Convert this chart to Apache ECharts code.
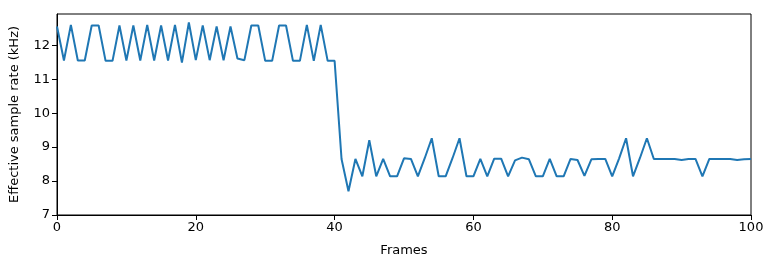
<!DOCTYPE html>
<html>
<head>
<meta charset="utf-8">
<script src="https://cdn.jsdelivr.net/npm/echarts@6/dist/echarts.min.js"></script>
<style>html,body{margin:0;padding:0;background:#fff}#c{width:774px;height:268px}</style>
</head>
<body>
<div id="c"></div>
<script>
const frames = Array.from({length: 101}, (_, i) => i);
const sampleRate = [
  12.55, 11.55, 12.6, 11.55, 11.55, 12.58, 12.58, 11.54, 11.54, 12.58,
  11.55, 12.58, 11.55, 12.6, 11.55, 12.58, 11.55, 12.6, 11.49, 12.67,
  11.56, 12.58, 11.56, 12.55, 11.56, 12.55, 11.61, 11.56, 12.58, 12.58,
  11.54, 11.54, 12.58, 12.58, 11.54, 11.54, 12.6, 11.54, 12.6, 11.54,
  11.54, 8.65, 7.7, 8.65, 8.14, 9.2, 8.14, 8.65, 8.14, 8.14,
  8.67, 8.65, 8.14, 8.68, 9.26, 8.14, 8.14, 8.68, 9.26, 8.14,
  8.14, 8.65, 8.14, 8.66, 8.66, 8.14, 8.61, 8.69, 8.64, 8.14,
  8.14, 8.65, 8.14, 8.14, 8.65, 8.62, 8.15, 8.64, 8.65, 8.65,
  8.14, 8.67, 9.26, 8.14, 8.68, 9.26, 8.65, 8.65, 8.65, 8.65,
  8.62, 8.65, 8.65, 8.14, 8.65, 8.65, 8.65, 8.65, 8.62, 8.64, 8.65
];
const xTicks = [0, 20, 40, 60, 80, 100];
const yTicks = [7, 8, 9, 10, 11, 12];

const font = 'DejaVu Sans';
const chart = echarts.init(document.getElementById('c'), null, {renderer: 'canvas'});
chart.setOption({
  animation: false,
  grid: {left: 57, right: 23, top: 14, bottom: 53, show: true, borderColor: '#000', borderWidth: 1, backgroundColor: 'transparent'},
  xAxis: {
    type: 'value', min: 0, max: 100, interval: 20,
    name: 'Frames', nameLocation: 'middle', nameGap: 29,
    nameTextStyle: {fontFamily: font, fontSize: 13, color: '#000'},
    axisLine: {show: true, lineStyle: {color: '#000', width: 1}},
    axisTick: {show: true, length: 5, inside: false, lineStyle: {color: '#000'}, customValues: xTicks},
    axisLabel: {fontFamily: font, fontSize: 13, color: '#000', margin: 6, customValues: xTicks},
    splitLine: {show: false}
  },
  yAxis: {
    type: 'value', min: 7, max: 12.92, interval: 1,
    name: 'Effective sample rate (kHz)', nameLocation: 'middle', nameGap: 36,
    nameTextStyle: {fontFamily: font, fontSize: 13, color: '#000'},
    axisLine: {show: true, lineStyle: {color: '#000', width: 1}},
    axisTick: {show: true, length: 5, inside: false, lineStyle: {color: '#000'}, customValues: yTicks},
    axisLabel: {fontFamily: font, fontSize: 13, color: '#000', margin: 7, customValues: yTicks},
    splitLine: {show: false}
  },
  series: [{
    type: 'line',
    data: frames.map((f, i) => [f, sampleRate[i]]),
    showSymbol: false,
    symbol: 'none',
    lineStyle: {color: '#1f77b4', width: 2},
    clip: true
  }]
});
</script>
</body>
</html>
